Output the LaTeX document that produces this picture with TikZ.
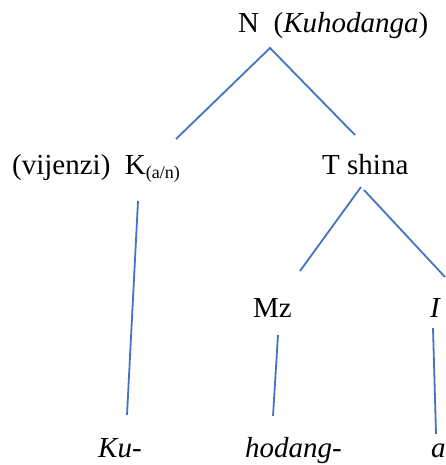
\documentclass[tikz,border=0pt]{standalone}
\usepackage{fontspec}
\setmainfont{Liberation Serif}
\definecolor{treeblue}{HTML}{4472C4}
\begin{document}
\begin{tikzpicture}[x=1pt,y=-1pt,
  lbl/.style={anchor=base west,inner sep=0pt,font=\fontsize{29}{34}\selectfont},
  edge/.style={draw=treeblue,line width=1.8pt},
]
\useasboundingbox (0,0) rectangle (445,465);
% nodes
\node[lbl] (n) at (238,33) {N\ \ (\textit{Kuhodanga})};
\node[lbl] (k) at (12,174) {(vijenzi)\ \ K\raisebox{-5pt}{\fontsize{18}{20}\selectfont (a/n)}};
\node[lbl] (t) at (322,175) {T shina};
\node[lbl] (mz) at (253,317) {Mz};
\node[lbl] (i) at (430,317) {\textit{I}};
\node[lbl] (ku) at (98,457) {\textit{Ku-}};
\node[lbl] (ho) at (245,457) {\textit{hodang-}};
\node[lbl] (a) at (431,457) {\textit{a}};
% connector ends
\coordinate (n1) at (270,48);
\coordinate (k1) at (176,139);
\coordinate (t1) at (355,135);
\coordinate (t2) at (361,187);
\coordinate (t3) at (364,190);
\coordinate (mz1) at (300,271);
\coordinate (i1) at (445,277);
\coordinate (k2) at (138,201);
\coordinate (ku1) at (127,415);
\coordinate (mz2) at (278,335);
\coordinate (ho1) at (273,416);
\coordinate (i2) at (433,328);
\coordinate (a1) at (436,434);
% connectors
\draw[edge] (k1) -- (n1) -- (t1);
\draw[edge] (mz1) -- (t2);
\draw[edge] (t3) -- (i1);
\draw[edge] (k2) -- (ku1);
\draw[edge] (mz2) -- (ho1);
\draw[edge] (i2) -- (a1);
\end{tikzpicture}
\end{document}
